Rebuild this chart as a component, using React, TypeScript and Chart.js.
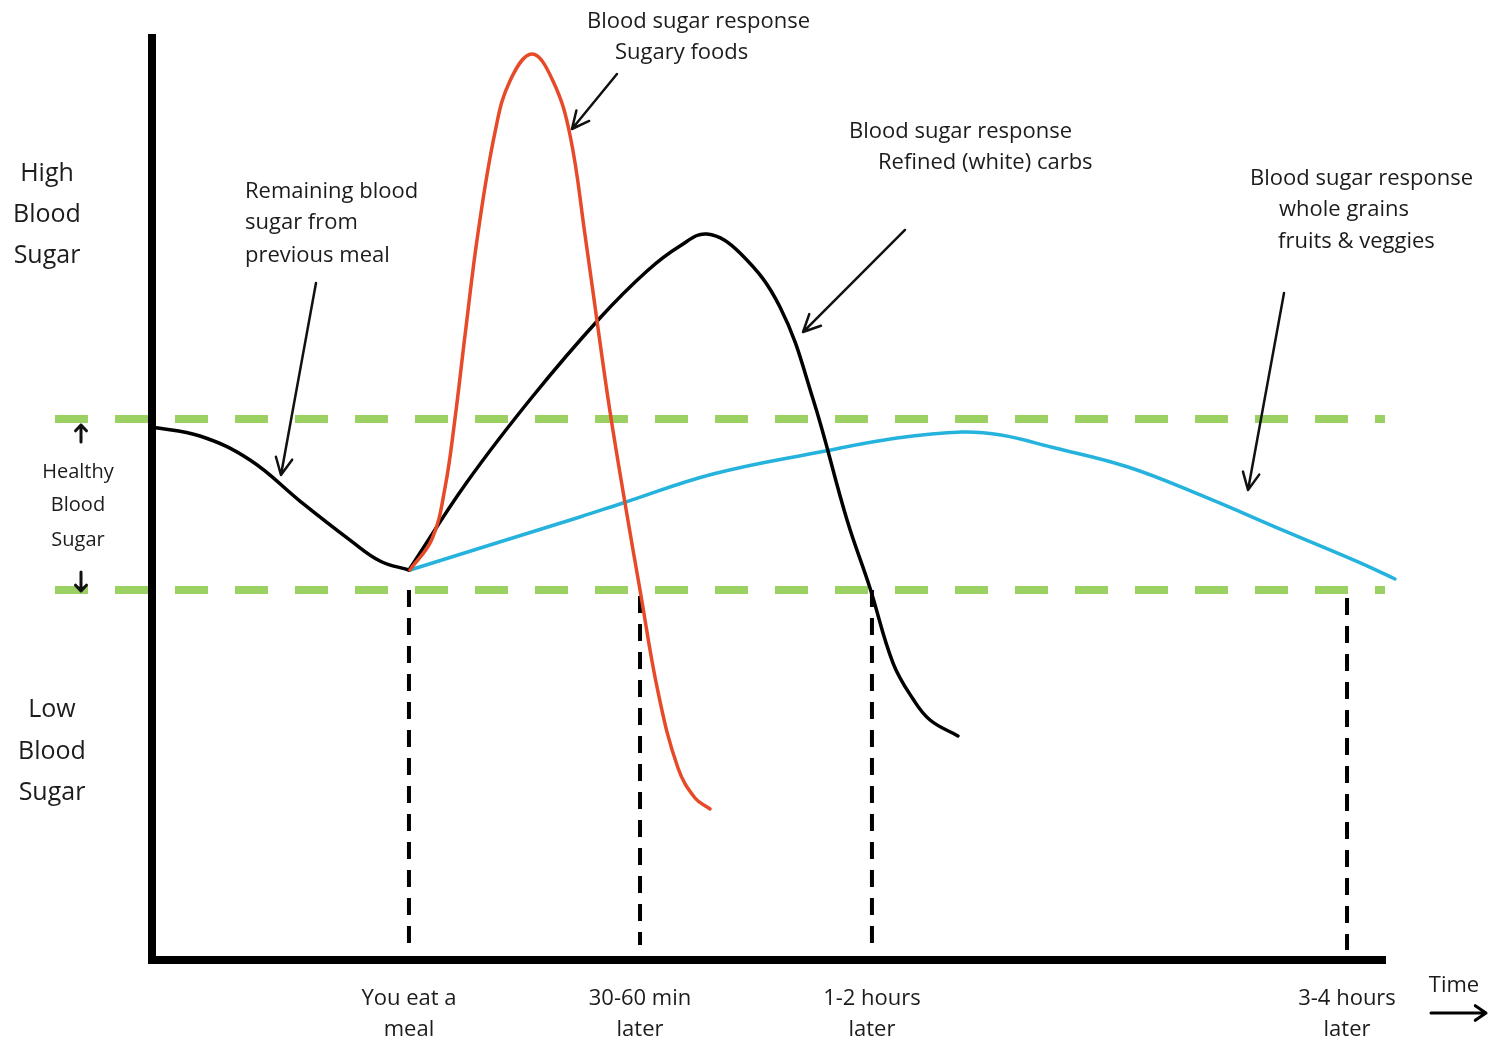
import React, { useEffect, useRef } from 'react';
import { Chart, registerables } from 'chart.js';

Chart.register(...registerables);

// ---- data (x: time units, 0 = start; y: blood sugar level, 0..100) ----
const timeMarks = [20.84, 39.58, 58.39, 96.92];
const timeLabels = [
  ['You eat a', 'meal'],
  ['30-60 min', 'later'],
  ['1-2 hours', 'later'],
  ['3-4 hours', 'later'],
];
const markTop = [40.13, 39.48, 40.13, 39.26];
const markBottom = [1.63, 1.63, 1.63, 1.08];

const healthyLow = 40.13;
const healthyHigh = 58.68;
const healthyRange = [-7.87, 100];

const previousMeal = [
  { x: 0, y: 57.81 }, { x: 3.89, y: 56.83 }, { x: 7.95, y: 54.23 }, { x: 12.0, y: 49.78 },
  { x: 16.06, y: 45.55 }, { x: 18.49, y: 43.28 }, { x: 20.84, y: 42.3 },
];
const refinedCarbs = [
  { x: 20.84, y: 42.3 }, { x: 25.55, y: 51.84 }, { x: 30.9, y: 61.17 }, { x: 36.33, y: 69.63 },
  { x: 40.15, y: 74.73 }, { x: 42.82, y: 77.44 }, { x: 45.01, y: 78.74 }, { x: 47.69, y: 76.68 },
  { x: 50.93, y: 70.82 }, { x: 53.61, y: 60.85 }, { x: 56.37, y: 47.72 }, { x: 58.23, y: 40.35 },
  { x: 60.1, y: 32.21 }, { x: 61.72, y: 28.31 }, { x: 63.1, y: 26.03 }, { x: 65.37, y: 24.3 },
];
const sugaryFoods = [
  { x: 20.92, y: 42.3 }, { x: 22.71, y: 45.66 }, { x: 23.76, y: 51.19 }, { x: 24.57, y: 58.68 },
  { x: 25.39, y: 67.79 }, { x: 26.44, y: 78.85 }, { x: 27.82, y: 89.8 }, { x: 29.03, y: 95.34 },
  { x: 30.82, y: 98.26 }, { x: 32.52, y: 95.34 }, { x: 33.9, y: 89.48 }, { x: 35.12, y: 78.63 },
  { x: 36.25, y: 67.79 }, { x: 37.15, y: 59.44 }, { x: 38.36, y: 49.57 }, { x: 39.58, y: 40.13 },
  { x: 41.04, y: 29.07 }, { x: 42.66, y: 20.82 }, { x: 44.04, y: 17.57 }, { x: 45.26, y: 16.38 },
];
const wholeGrains = [
  { x: 20.92, y: 42.3 }, { x: 27.41, y: 45.01 }, { x: 34.71, y: 48.05 }, { x: 38.2, y: 49.57 },
  { x: 45.5, y: 52.71 }, { x: 54.18, y: 55.1 }, { x: 60.42, y: 56.62 }, { x: 65.69, y: 57.27 },
  { x: 68.86, y: 56.94 }, { x: 72.91, y: 55.64 }, { x: 79.16, y: 53.47 }, { x: 85.4, y: 50.22 },
  { x: 91.65, y: 46.64 }, { x: 97.81, y: 43.17 }, { x: 100.81, y: 41.32 },
];

// pointer arrows (data units): from -> to (tip)
const pointerFrom = [[13.3, 73.43], [37.71, 96.1], [61.07, 79.18], [91.81, 72.34]];
const pointerTo = [[10.46, 52.6], [34.06, 90.13], [52.8, 68.11], [88.89, 50.98]];

// ---- text labels ----
const highLabel = ['High', 'Blood', 'Sugar'];
const healthyLabel = ['Healthy', 'Blood', 'Sugar'];
const lowLabel = ['Low', 'Blood', 'Sugar'];
const sugaryNote = ['Blood sugar response', 'Sugary foods'];
const refinedNote = ['Blood sugar response', 'Refined (white) carbs'];
const wholeNote = ['Blood sugar response', 'whole grains', 'fruits & veggies'];
const previousNote = ['Remaining blood', 'sugar from', 'previous meal'];
const timeTitle = 'Time';

const FONT = '"Open Sans", "DejaVu Sans", sans-serif';
const TEXT = '#1c1c1c';

type Line = { t: string; x: number; y: number; size: number; align: CanvasTextAlign };

const textLines: Line[] = [
  { t: sugaryNote[0], x: 587, y: 22, size: 22, align: 'left' },
  { t: sugaryNote[1], x: 615, y: 53, size: 22, align: 'left' },
  { t: refinedNote[0], x: 849, y: 132, size: 22, align: 'left' },
  { t: refinedNote[1], x: 878, y: 163, size: 22, align: 'left' },
  { t: wholeNote[0], x: 1250, y: 179, size: 22, align: 'left' },
  { t: wholeNote[1], x: 1279, y: 210, size: 22, align: 'left' },
  { t: wholeNote[2], x: 1278, y: 242, size: 22, align: 'left' },
  { t: previousNote[0], x: 245, y: 192, size: 22, align: 'left' },
  { t: previousNote[1], x: 245, y: 223, size: 22, align: 'left' },
  { t: previousNote[2], x: 245, y: 256, size: 22, align: 'left' },
  { t: highLabel[0], x: 47, y: 174, size: 25, align: 'center' },
  { t: highLabel[1], x: 47, y: 215, size: 25, align: 'center' },
  { t: highLabel[2], x: 47, y: 256, size: 25, align: 'center' },
  { t: healthyLabel[0], x: 78, y: 472, size: 20, align: 'center' },
  { t: healthyLabel[1], x: 78, y: 505, size: 20, align: 'center' },
  { t: healthyLabel[2], x: 78, y: 540, size: 20, align: 'center' },
  { t: lowLabel[0], x: 52, y: 710, size: 25, align: 'center' },
  { t: lowLabel[1], x: 52, y: 752, size: 25, align: 'center' },
  { t: lowLabel[2], x: 52, y: 793, size: 25, align: 'center' },
  { t: timeTitle, x: 1454, y: 986, size: 22, align: 'center' },
];

function drawArrow(ctx: CanvasRenderingContext2D, x1: number, y1: number, x2: number, y2: number,
  width: number, head: number, spread: number) {
  const a = Math.atan2(y2 - y1, x2 - x1);
  ctx.lineWidth = width;
  ctx.beginPath();
  ctx.moveTo(x1, y1);
  ctx.lineTo(x2, y2);
  ctx.moveTo(x2 - head * Math.cos(a - spread), y2 - head * Math.sin(a - spread));
  ctx.lineTo(x2, y2);
  ctx.lineTo(x2 - head * Math.cos(a + spread), y2 - head * Math.sin(a + spread));
  ctx.stroke();
}

const annotationPlugin = {
  id: 'annotations',
  afterDatasetsDraw(chart: any) {
    const { ctx, scales } = chart;
    const xs = scales.x;
    const ys = scales.y;
    ctx.save();
    ctx.strokeStyle = '#111';
    ctx.lineCap = 'round';
    ctx.lineJoin = 'round';
    pointerFrom.forEach((f, i) => {
      const t = pointerTo[i];
      drawArrow(ctx, xs.getPixelForValue(f[0]), ys.getPixelForValue(f[1]),
        xs.getPixelForValue(t[0]), ys.getPixelForValue(t[1]), 2.5, 19, 0.45);
    });
    // healthy range arrows
    const xa = 81;
    const hy = ys.getPixelForValue(healthyHigh);
    const ly = ys.getPixelForValue(healthyLow);
    drawArrow(ctx, xa, hy + 23, xa, hy + 6, 3, 8, 0.75);
    drawArrow(ctx, xa, ly - 18, xa, ly + 1, 3, 8, 0.75);
    // time arrow
    ctx.strokeStyle = '#000';
    drawArrow(ctx, 1431, 1013, 1486, 1013, 3, 13, 0.6);
    // texts
    ctx.fillStyle = TEXT;
    ctx.textBaseline = 'middle';
    textLines.forEach((l) => {
      ctx.font = `${l.size}px ${FONT}`;
      ctx.textAlign = l.align;
      ctx.fillText(l.t, l.x, l.y);
    });
    ctx.restore();
  },
};

export default function App() {
  const ref = useRef<HTMLCanvasElement>(null);
  useEffect(() => {
    if (!ref.current) return;
    const GREEN = '#9bd162';
    const verticals = timeMarks.map((m, i) => ({
      data: [{ x: m, y: markTop[i] }, { x: m, y: markBottom[i] }],
      borderColor: '#000',
      borderWidth: 4,
      borderDash: [17, 11],
      borderCapStyle: 'butt',
      pointRadius: 0,
      tension: 0,
      clip: false,
      order: 5,
    }));
    const curve = { pointRadius: 0, clip: false, tension: 0.4, borderWidth: 3.5, borderCapStyle: 'round' };
    const chart = new Chart(ref.current, {
      type: 'line',
      data: {
        datasets: [
          { label: 'Sugary foods', data: sugaryFoods, borderColor: '#e64a28', order: 0, ...curve },
          { label: 'Refined (white) carbs', data: refinedCarbs, borderColor: '#000', order: 1, ...curve },
          { label: 'Previous meal', data: previousMeal, borderColor: '#000', order: 1, ...curve },
          { label: 'Whole grains, fruits & veggies', data: wholeGrains, borderColor: '#25b3de', order: 2, ...curve },
          {
            label: 'Healthy high', data: [{ x: healthyRange[0], y: healthyHigh }, { x: healthyRange[1], y: healthyHigh }],
            borderColor: GREEN, borderWidth: 8, borderDash: [33, 27], borderCapStyle: 'butt', pointRadius: 0, tension: 0, clip: false, order: 3,
          },
          {
            label: 'Healthy low', data: [{ x: healthyRange[0], y: healthyLow }, { x: healthyRange[1], y: healthyLow }],
            borderColor: GREEN, borderWidth: 8, borderDash: [33, 27], borderCapStyle: 'butt', pointRadius: 0, tension: 0, clip: false, order: 3,
          },
          ...verticals,
        ] as any,
      },
      options: {
        responsive: false,
        animation: false,
        elements: { line: { capBezierPoints: false } },
        layout: { padding: { top: 38, right: 106, left: 0, bottom: 0 } },
        plugins: { legend: { display: false }, tooltip: { enabled: false } },
        scales: {
          x: {
            type: 'linear', min: 0, max: 100,
            grid: { display: false, drawTicks: false },
            border: { display: true, width: 8, color: '#000' },
            afterFit: (s: any) => { s.height = 84; },
            afterBuildTicks: (s: any) => { s.ticks = timeMarks.map((v) => ({ value: v })); },
            ticks: {
              autoSkip: false, maxRotation: 0, minRotation: 0, padding: 23,
              color: TEXT,
              font: { family: FONT, size: 22, lineHeight: '31px' },
              callback: (_v: any, i: number) => timeLabels[i],
            },
          },
          y: {
            type: 'linear', min: 0, max: 100,
            grid: { display: false, drawTicks: false },
            border: { display: true, width: 8, color: '#000' },
            ticks: { display: false },
            afterFit: (s: any) => { s.width = 152; },
          },
        },
      } as any,
      plugins: [annotationPlugin],
    });
    return () => chart.destroy();
  }, []);
  return (
    <div style={{ position: 'fixed', left: 0, top: 0, width: 1491, height: 1044, background: '#fff' }}>
      <canvas ref={ref} width={1491} height={1044} style={{ display: 'block' }} />
    </div>
  );
}
